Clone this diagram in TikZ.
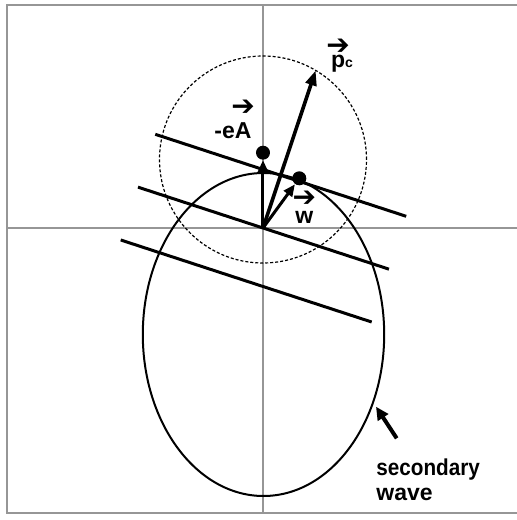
\documentclass[tikz,border=0pt]{standalone}
\usepackage{fontspec}
\usepackage{tikz}
\usetikzlibrary{arrows.meta}
\newfontfamily\labelfont{Liberation Sans}
\newfontfamily\arrowfont{DejaVu Sans}
\definecolor{axisgray}{RGB}{150,150,150}
% arrow accent over a letter, raised by #1
\newcommand{\vecsf}[2][12pt]{\ooalign{#2\cr\hidewidth\raisebox{#1}{\arrowfont\bfseries\fontsize{14}{14}\selectfont\char"2794}\hidewidth\cr}}

\begin{document}
\begin{tikzpicture}[x=0.5pt,y=0.5pt,
    frame/.style={axisgray,line width=0.6pt},
    vect/.style={line width=1.5pt,-{Triangle[length=6pt,width=5pt]}},
    dot/.style={circle,fill,inner sep=0pt,minimum size=7pt},
    lbl/.style={inner sep=0pt,font=\labelfont\bfseries\fontsize{11.5}{12.5}\selectfont}]
  \useasboundingbox (-263,-292) rectangle (254,228);
  % frame and axes
  \draw[frame] (254,223) -- (-256,223) -- (-256,-285) -- (254,-285);
  \draw[frame] (0,223) -- (0,-285);
  \draw[frame] (-256,0) -- (254,0);
  % wave fronts
  \begin{scope}[rotate=-18.1]
    \foreach \d in {55.6,0,-55.6}
      \draw[line width=1.5pt] (-131.5,\d) -- (132.5,\d);
  \end{scope}
  % secondary wave and circle
  \draw[line width=1pt] (0.5,-106.5) ellipse [x radius=120.7, y radius=161.5];
  \coordinate (O) at (0,0);
  \coordinate (C) at (0,68.5);
  \draw[line width=0.6pt,dash pattern=on 1.5pt off 1pt] (C) circle [radius=103.5];
  \coordinate (P) at ([shift={(59.4:103.5)}]C);
  % vectors
  \node[dot] (dotA) at (0,75.3) {};
  \node[dot] (dotW) at (36.3,49.7) {};
  \draw[vect] (O) -- (dotA);
  \draw[vect] (O) -- (dotW);
  \draw[vect,line width=1.8pt,-{Triangle[length=7.5pt,width=5.5pt]}] (O) -- (P);
  % labels
  \node[lbl,anchor=base west] (pc) at (67.7,160.3) {\vecsf[6.5pt]{p}{\fontsize{7}{7}\selectfont c}};
  \node[lbl,anchor=base west] (eA) at (-49,89.7) {-e\vecsf[11.5pt]{A}};
  \node[lbl,anchor=base west] (w) at (32,4.7) {\vecsf[8.5pt]{w}};
  \node[lbl,anchor=north west,align=left] (sw) at (113,-230)
    {\addfontfeatures{FakeStretch=0.9}secondary\\wave};
  \coordinate (swtail) at (133.7,-210.3);
  \coordinate (swtip) at (113,-178.7);
  \draw[line width=2pt,-{Triangle[length=6.5pt,width=6pt]}] (swtail) -- (swtip);
\end{tikzpicture}
\end{document}
